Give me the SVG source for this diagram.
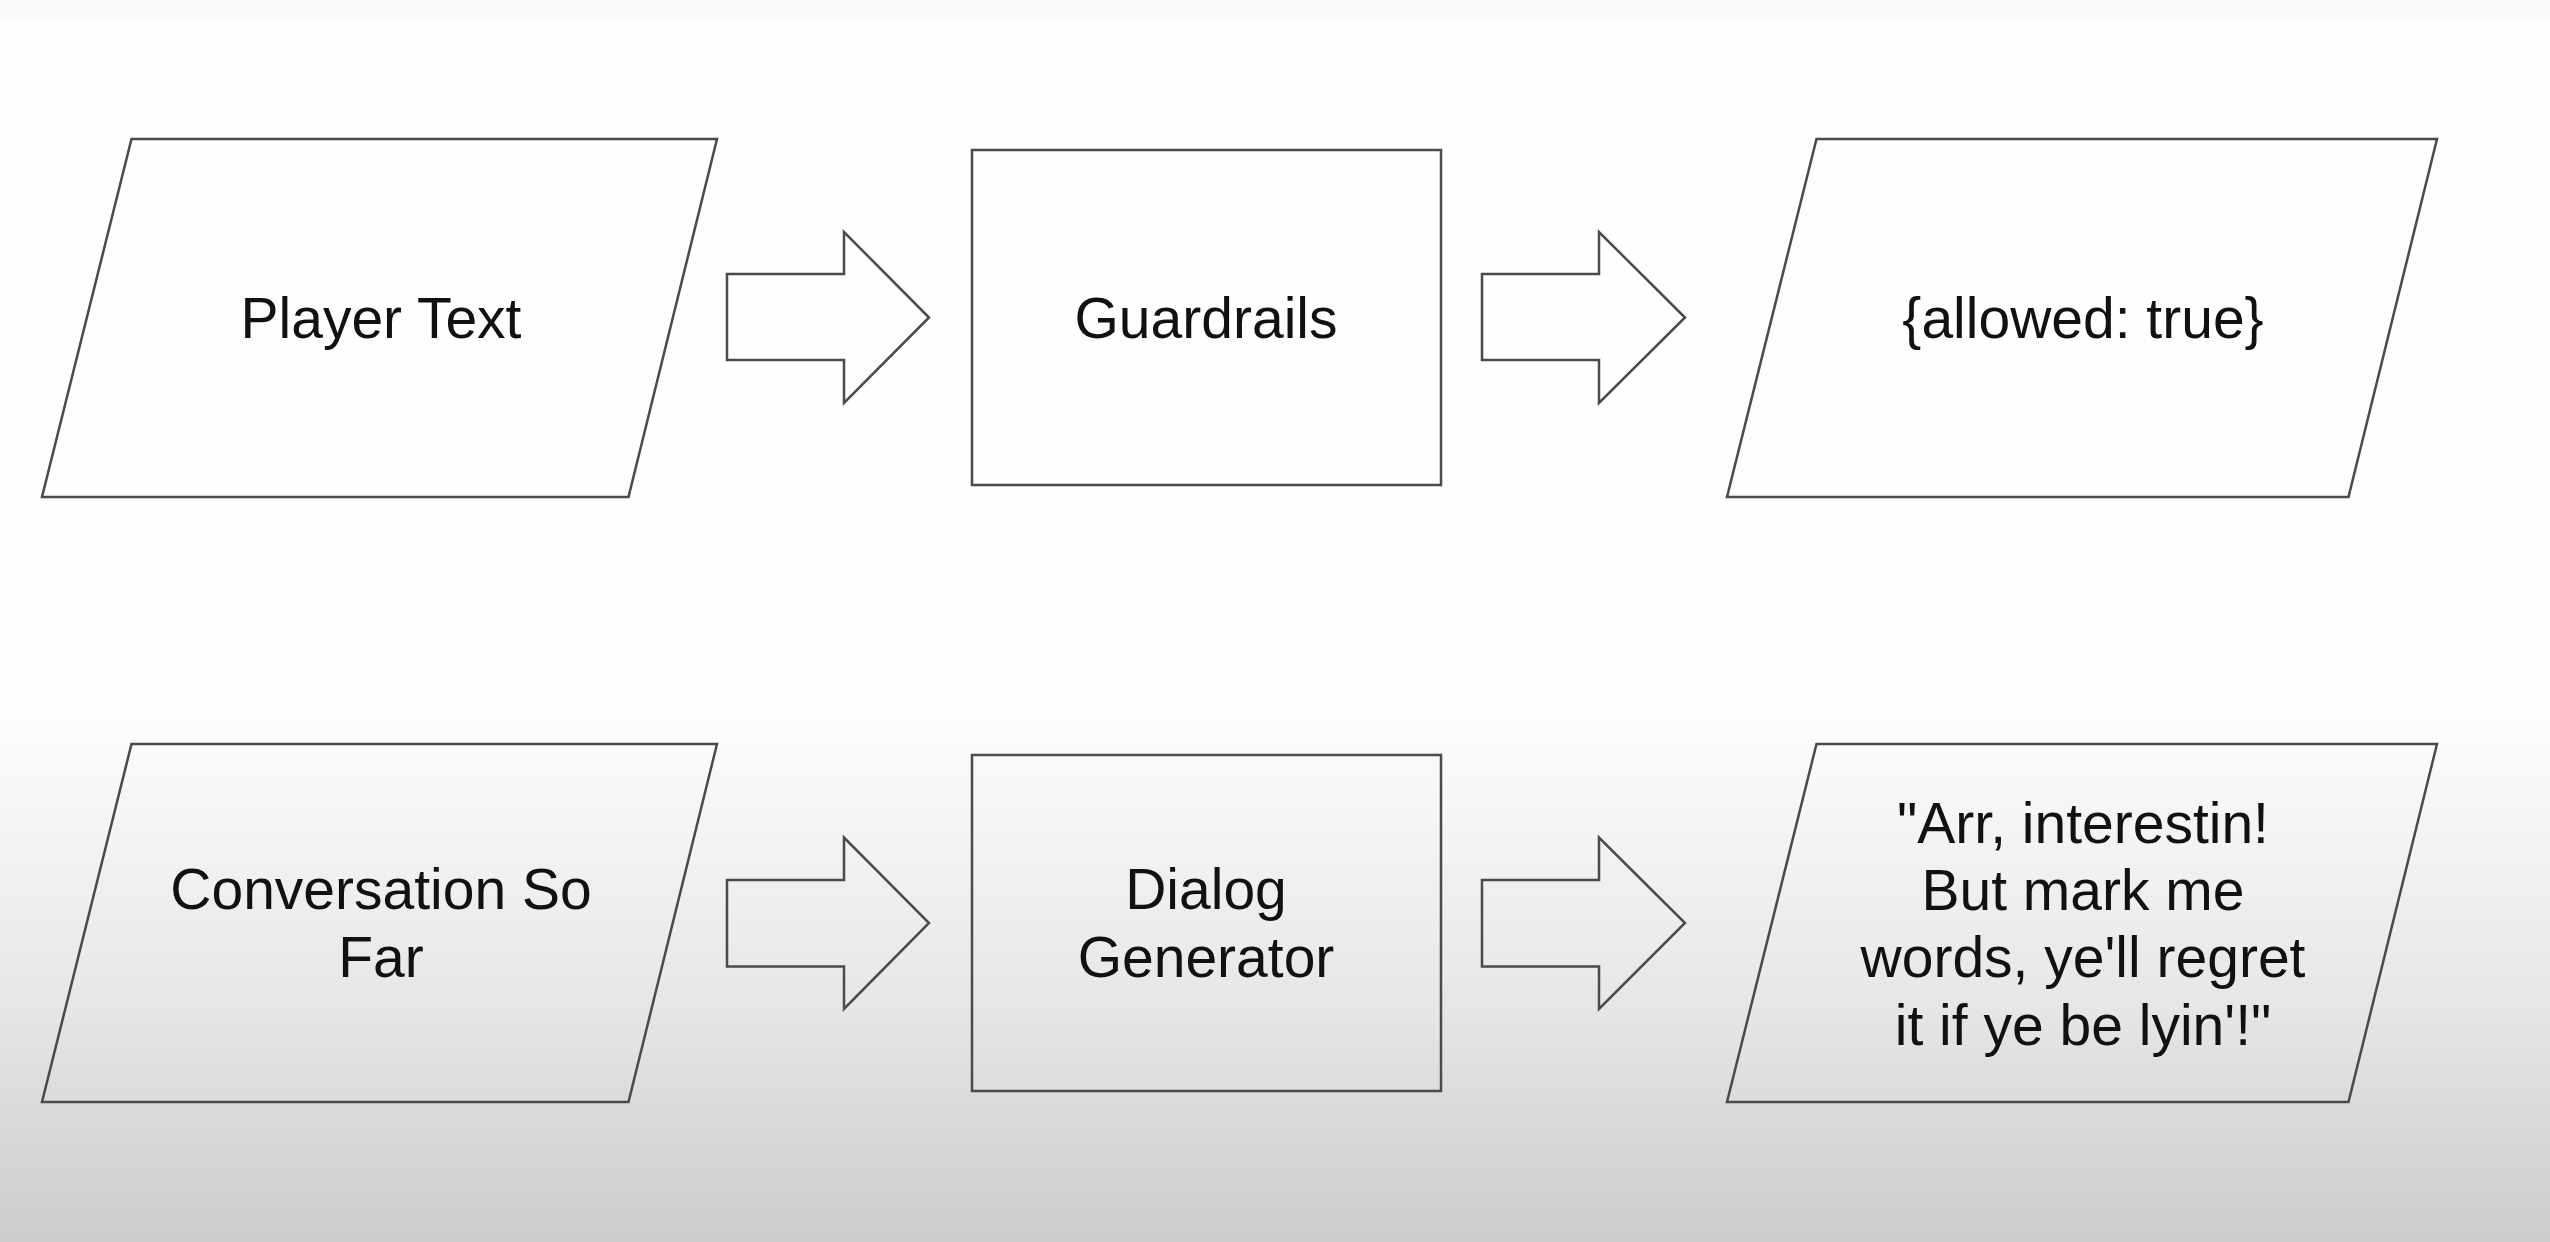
<svg xmlns="http://www.w3.org/2000/svg" width="2550" height="1242" viewBox="0 0 2550 1242">
  <defs>
    <linearGradient id="bg" gradientUnits="userSpaceOnUse" x1="0" y1="700" x2="0" y2="1242">
      <stop offset="0" stop-color="#fefefe"/>
      <stop offset="0.55" stop-color="#e7e7e7"/>
      <stop offset="1" stop-color="#cccccc"/>
    </linearGradient>
    <style>
      .shape { fill: none; stroke: #4a4a4a; stroke-width: 2.5; stroke-linejoin: miter; }
      .arrow { fill: none; stroke: #4a4a4a; stroke-width: 2.5; stroke-linejoin: miter; }
      .lbl { font-family: "Liberation Sans", Arial, sans-serif; font-size: 57px; fill: #111111; text-anchor: middle; }
    </style>
  </defs>

  <rect x="0" y="0" width="2550" height="1242" fill="#fefefe"/>
  <rect x="0" y="0" width="2550" height="22" fill="#fafafa"/>
  <rect x="0" y="700" width="2550" height="542" fill="url(#bg)"/>

  <g id="connectors">
    <polygon class="arrow" points="727,274 844,274 844,232 929,317.5 844,403 844,360 727,360"/>
    <polygon class="arrow" points="1482,274 1599,274 1599,232 1685,317.5 1599,403 1599,360 1482,360"/>
    <polygon class="arrow" points="727,880 844,880 844,837.5 929,923 844,1009 844,966.5 727,966.5"/>
    <polygon class="arrow" points="1482,880 1599,880 1599,837.5 1685,923 1599,1009 1599,966.5 1482,966.5"/>
  </g>

  <g id="player-text">
    <polygon class="shape" points="131.5,139 717,139 628.5,497 42,497"/>
    <text class="lbl" x="381" y="338">Player Text</text>
  </g>

  <g id="guardrails">
    <rect class="shape" x="972" y="150" width="469" height="335"/>
    <text class="lbl" x="1206" y="338">Guardrails</text>
  </g>

  <g id="allowed">
    <polygon class="shape" points="1816.5,139 2437,139 2348.5,497 1727,497"/>
    <text class="lbl" x="2083" y="338">{allowed: true}</text>
  </g>

  <g id="conversation">
    <polygon class="shape" points="131.5,744 717,744 628.5,1102 42,1102"/>
    <text class="lbl" x="381" y="909">Conversation So</text>
    <text class="lbl" x="381" y="977">Far</text>
  </g>

  <g id="dialog-generator">
    <rect class="shape" x="972" y="755" width="469" height="336"/>
    <text class="lbl" x="1206" y="909">Dialog</text>
    <text class="lbl" x="1206" y="977">Generator</text>
  </g>

  <g id="pirate-reply">
    <polygon class="shape" points="1816.5,744 2437,744 2348.5,1102 1727,1102"/>
    <text class="lbl" x="2083" y="843">"Arr, interestin!</text>
    <text class="lbl" x="2083" y="910">But mark me</text>
    <text class="lbl" x="2083" y="977">words, ye'll regret</text>
    <text class="lbl" x="2083" y="1045">it if ye be lyin'!"</text>
  </g>
</svg>
